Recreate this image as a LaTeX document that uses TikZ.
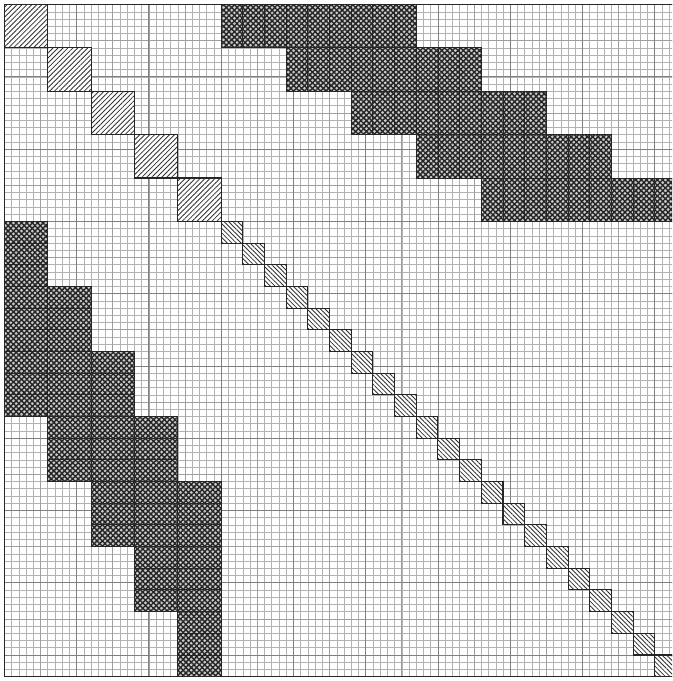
\documentclass[tikz,border=0pt]{standalone}
\usetikzlibrary{patterns.meta}

\tikzset{
  finegrid/.style={gray!60, line width=0.35pt},
  midgrid/.style={gray!75, line width=0.45pt},
  heavygrid/.style={black!50, line width=0.5pt},
  pivotbig/.style={draw=black!85, line width=0.7pt, preaction={fill=white},
    pattern={Lines[angle=45, distance=2.3pt, line width=0.55pt]}, pattern color=black!80},
  pivotsmall/.style={draw=black!85, line width=0.7pt, preaction={fill=white},
    pattern={Lines[angle=-45, distance=2.1pt, line width=0.55pt]}, pattern color=black!80},
  coupling/.style={draw=black!85, line width=0.6pt, preaction={fill=gray!40},
    preaction={pattern={Lines[angle=45, distance=2.5pt, line width=0.95pt]}, pattern color=black!85},
    pattern={Lines[angle=-45, distance=2.5pt, line width=0.95pt]}, pattern color=black!85}
}

\begin{document}
\begin{tikzpicture}[x=0.5cm, y=0.5cm]
\useasboundingbox (-0.2,0.21) rectangle (30.8,-31.2);
\clip (-0.2,0.21) rectangle (30.8,-31.2);

% Size of the matrix (in blocks of 1x1)
\def\n{31}

% Graph paper
\begin{scope}
\clip (0,0) rectangle (\n,-\n);
\draw[finegrid, step=0.333333] (0,-\n) grid (\n,0);
\draw[midgrid, step=1.666667] (0,-\n) grid (\n,0);
\draw[heavygrid, step=3.333333] (0,-\n) grid (\n,0);
\end{scope}

% Pivot blocks 2x2
\foreach \i in {0,...,4}
  \draw[pivotbig] (2*\i,-2*\i) rectangle ++(2,-2);

% Pivot blocks 1x1
\foreach \k in {10,...,30}
  \draw[pivotsmall] (\k,-\k) rectangle ++(1,-1);

% Coupling blocks (upper right and its transpose)
\foreach \b in {0,...,4}{
  \foreach \j in {0,...,8}{
    \draw[coupling] ({10+3*\b+\j},{-2*\b}) rectangle ++(1,-2);
    \draw[coupling] ({2*\b},{-(10+3*\b+\j)}) rectangle ++(2,-1);
  }
}

% Frame
\draw[black!85, line width=1pt] (0,0) rectangle (\n,-\n);

\end{tikzpicture}
\end{document}
